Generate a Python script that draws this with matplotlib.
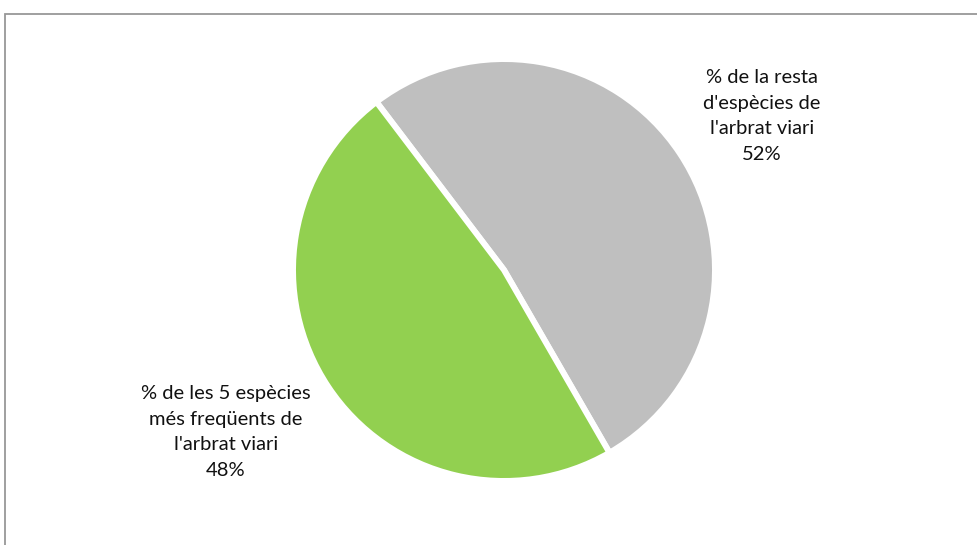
import matplotlib.pyplot as plt
from matplotlib.patches import Rectangle

# data
categories = ["% de la resta\nd'espècies de\nl'arbrat viari",
              "% de les 5 espècies\nmés freqüents de\nl'arbrat viari"]
shares = [52, 48]
colors = ['#BFBFBF', '#92D050']

W, H = 978, 545
fig = plt.figure(figsize=(W / 100, H / 100), dpi=100)

# pie area (pixels: centre ~ (504, 270), radius ~ 211)
cx, cy, r = 504, 270, 211
ax = fig.add_axes([(cx - r) / W, (H - cy - r) / H, 2 * r / W, 2 * r / H])
ax.pie(shares, colors=colors, startangle=127.2, counterclock=False,
       radius=1.0, wedgeprops=dict(edgecolor='white', linewidth=4.3))
ax.set_xlim(-1, 1)
ax.set_ylim(-1, 1)
ax.set_axis_off()

# data labels
label_pos = [(762, 116), (226, 432)]
for name, val, (px, py) in zip(categories, shares, label_pos):
    fig.text(px / W, 1 - py / H, f"{name}\n{val}%", ha='center', va='center',
             fontsize=14.5, family='Lato', linespacing=1.6, color='#111111')

# chart border
fig.patches.append(Rectangle((5 / W, -0.05), 1.1, 1 - 13.5 / H + 0.05,
                             transform=fig.transFigure, fill=False,
                             edgecolor='#979797', linewidth=1.3))

fig.savefig('out.png', dpi=100)
